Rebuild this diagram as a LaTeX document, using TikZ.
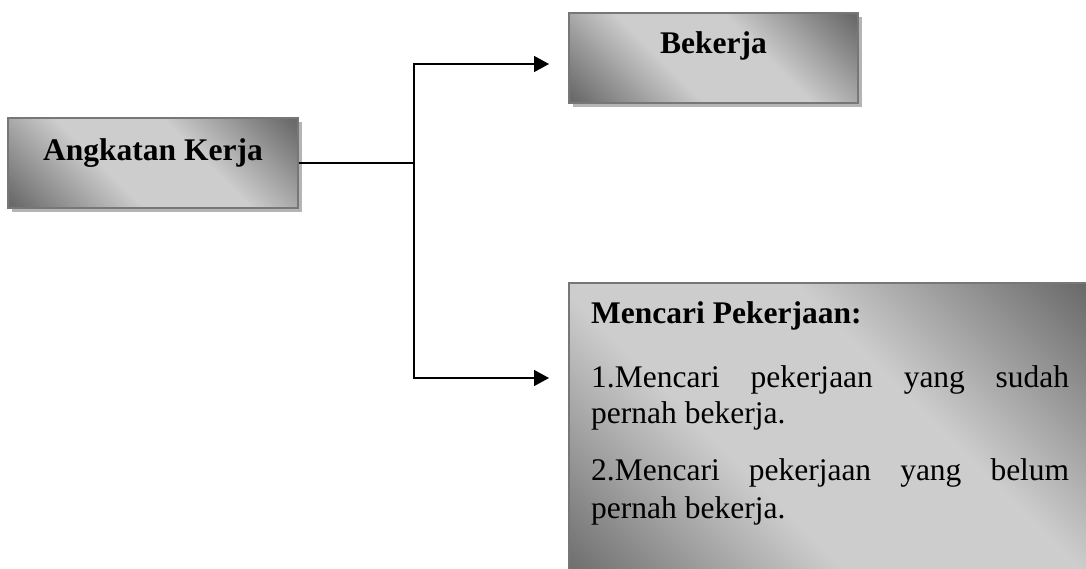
\documentclass[tikz,border=0pt]{standalone}
\usepackage{fontspec}
\setmainfont{Liberation Serif}
\usetikzlibrary{arrows.meta,shadows}
\definecolor{gdark}{HTML}{6A6A6A}
\definecolor{glight}{HTML}{CDCDCD}
\definecolor{boxedge}{HTML}{777777}
\definecolor{shadowgray}{HTML}{B4B4B4}
\pgfdeclarehorizontalshading{wordgrad}{100bp}{color(0bp)=(gdark); color(16bp)=(gdark); color(40bp)=(glight); color(60bp)=(glight); color(84bp)=(gdark); color(100bp)=(gdark)}
\tikzset{
  gbox/.style={rectangle, draw=boxedge, line width=2pt, shading=wordgrad, shading angle=45,
    inner sep=0pt, drop shadow={shadow xshift=4pt, shadow yshift=-4pt, fill=shadowgray, opacity=1}},
  txt/.style={inner sep=0pt, font=\fontsize{31.5pt}{36pt}\selectfont},
  btxt/.style={txt, font=\fontsize{31.5pt}{36pt}\selectfont\bfseries},
  conn/.style={line width=1.5pt, black},
  arr/.style={conn, -{Triangle[length=15pt,width=16pt]}}
}
\begin{document}
\begin{tikzpicture}[x=1pt,y=-1pt]
\useasboundingbox (0,0) rectangle (1086,568);
\clip (0,0) rectangle (1086,568);
\fill[white] (0,0) rectangle (1086,568);
% boxes
\node[gbox, minimum width=290pt, minimum height=90pt] (A) at (153,163) {};
\node[gbox, minimum width=289pt, minimum height=90pt] (B) at (713.5,58) {};
\node[gbox, minimum width=531pt, minimum height=317pt] (C) at (834.5,441.5) {};
% texts
\node[btxt, anchor=base] (tA) at (153,160) {Angkatan Kerja};
\node[btxt, anchor=base] (tB) at (713.5,53) {Bekerja};
\node[btxt, anchor=base west] (tC0) at (591,323) {Mencari Pekerjaan:};
\node[txt, anchor=base west] (tC1a) at (591,387) {\makebox[478pt][s]{1.Mencari pekerjaan yang sudah}};
\node[txt, anchor=base west] (tC1b) at (591,423) {pernah bekerja.};
\node[txt, anchor=base west] (tC2a) at (591,480) {\makebox[478pt][s]{2.Mencari pekerjaan yang belum}};
\node[txt, anchor=base west] (tC2b) at (591,518) {pernah bekerja.};
% connectors
\coordinate (J) at (414,163);
\coordinate (bt) at (549,64);
\coordinate (ct) at (549,378);
\draw[conn] (A.east) -- (J);
\draw[arr] (J) |- (bt);
\draw[arr] (J) |- (ct);
\end{tikzpicture}
\end{document}
